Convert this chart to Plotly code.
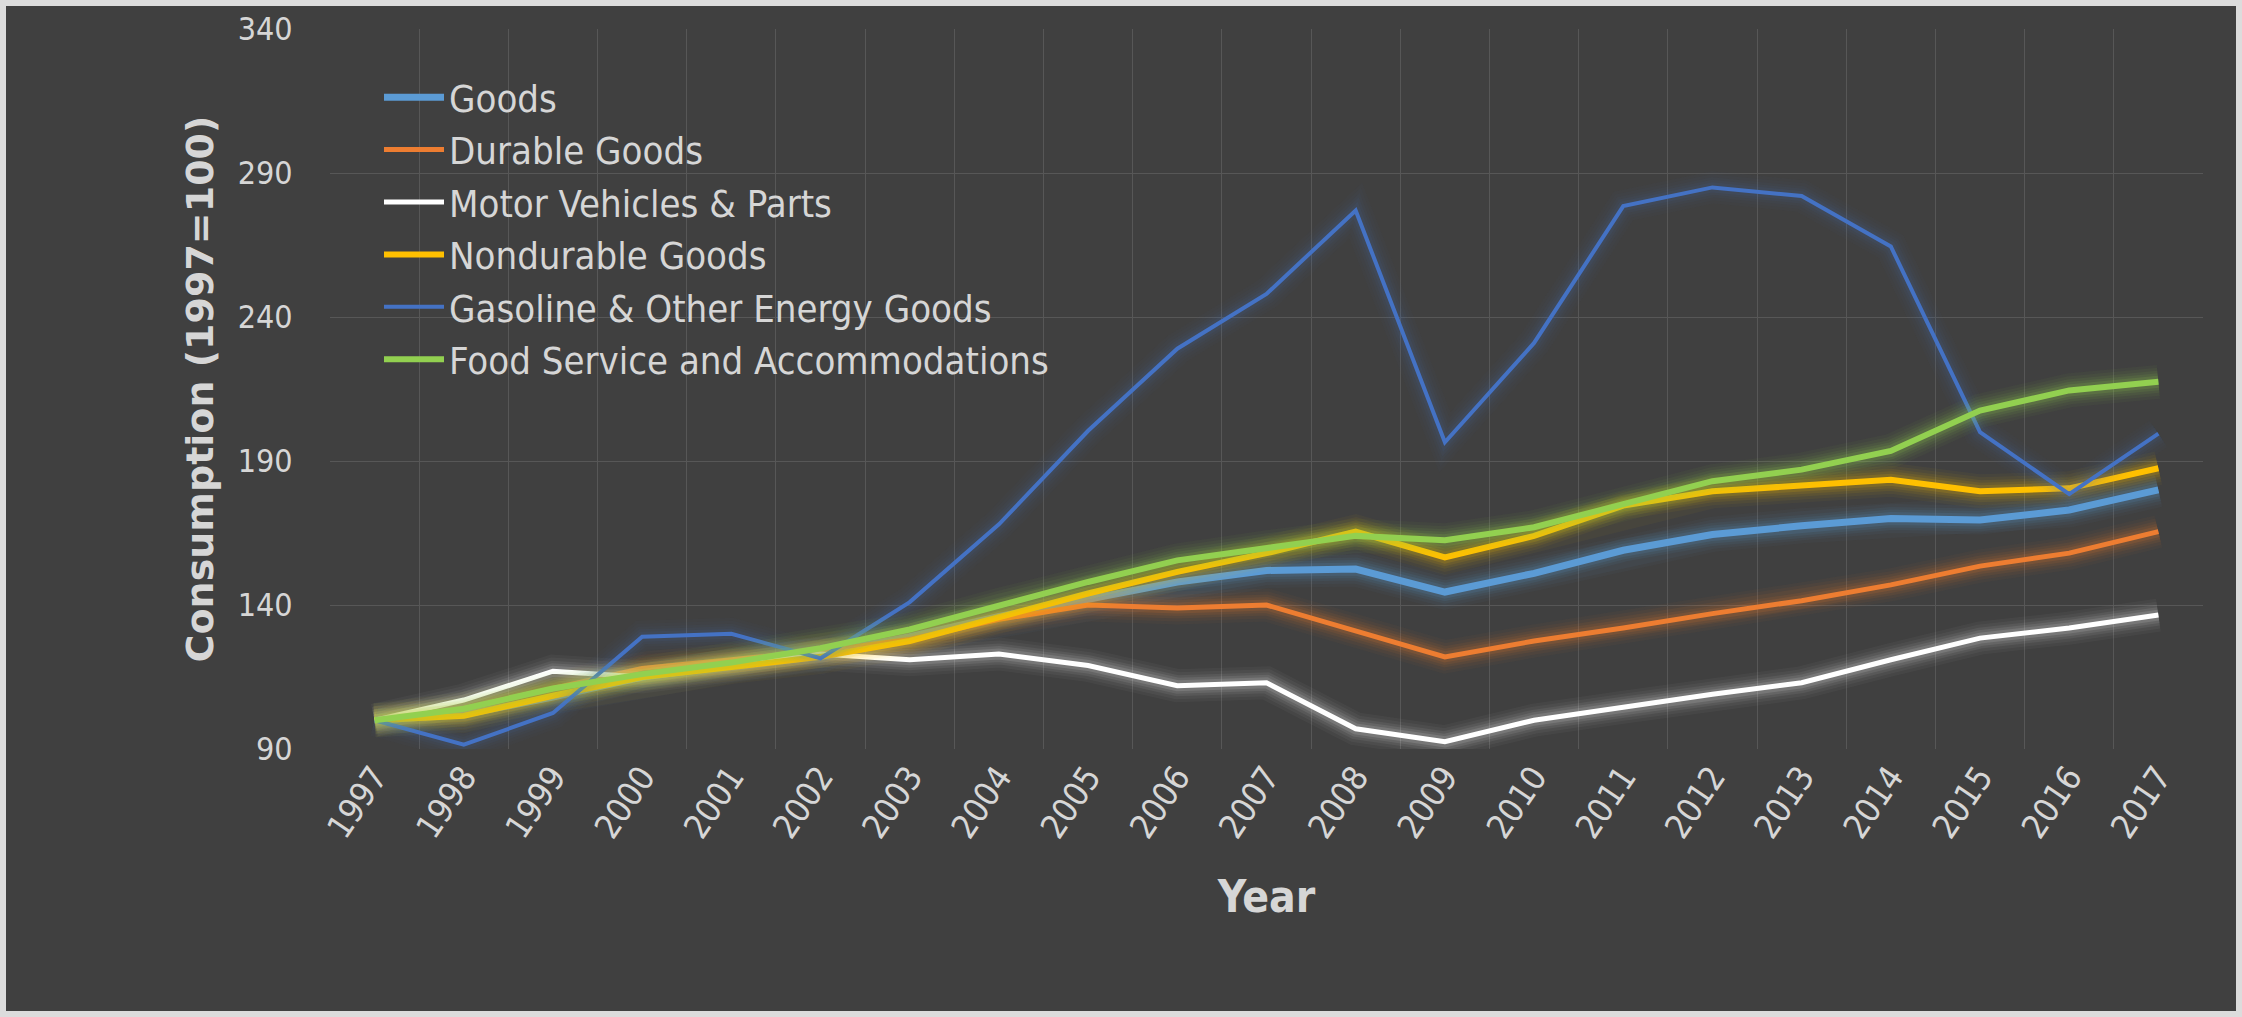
import plotly.graph_objects as go

# Consumption indices, 1997 = 100
years = [str(y) for y in range(1997, 2018)]

goods = [100, 102, 108, 115, 119, 123, 129, 136, 142, 148, 152, 152.5, 144.5, 151, 159, 164.5, 167.5, 170, 169.5, 173, 180]
durable_goods = [100, 104, 111, 118, 121, 124, 128, 135, 140, 139, 140, 131, 122, 127.5, 132, 137, 141.5, 147, 153.5, 158, 165.5]
motor_vehicles = [100, 107, 117, 115, 119, 123, 121, 123, 119, 112, 113, 97, 92.5, 100, 104.5, 109, 113, 121, 128.5, 132, 136.5]
nondurable_goods = [100, 101.5, 108.5, 115, 118.5, 122, 127.5, 136, 144, 151.5, 158, 165.5, 156.5, 164, 174.5, 179.5, 181.5, 183.5, 179.5, 180.5, 187.5]
gasoline_energy = [100, 91.5, 102.5, 129, 130, 121.5, 141, 168, 200.5, 229, 248, 277, 196.5, 231, 278.5, 285, 282, 264.5, 200, 178.5, 199.5]
food_accommodations = [100, 104, 111, 116, 120, 125, 131.5, 140, 148, 155.5, 160, 164, 162.5, 167, 175, 183, 187, 193.5, 207.5, 214.5, 217.5]

series_names = [
    "Goods",
    "Durable Goods",
    "Motor Vehicles & Parts",
    "Nondurable Goods",
    "Gasoline & Other Energy Goods",
    "Food Service and Accommodations",
]
series_values = [goods, durable_goods, motor_vehicles, nondurable_goods, gasoline_energy, food_accommodations]
series_colors = ["#5B9BD5", "#ED7D31", "#FFFFFF", "#FFC000", "#4472C4", "#92D050"]
series_widths = [7, 5, 5, 6, 4, 6]
glow_strength = [1.0, 1.0, 0.9, 1.0, 0.6, 1.1]

y_ticks = [90, 140, 190, 240, 290, 340]

BG = "#404040"
FRAME = "#dcdcdc"
TEXT = "#d6d6d6"
GRID = "#575757"
FONT = "Liberation Sans Narrow, DejaVu Sans Condensed, Lato, sans-serif"
TITLE_FONT = "DejaVu Sans, Verdana, sans-serif"

# halo layers: (extra width, opacity)
GLOW_LAYERS = [(28, 0.04), (22, 0.05), (16, 0.07), (11, 0.09), (6, 0.13)]


def rgba(hex_color, alpha):
    h = hex_color.lstrip("#")
    r, g, b = int(h[0:2], 16), int(h[2:4], 16), int(h[4:6], 16)
    return f"rgba({r},{g},{b},{alpha})"


fig = go.Figure()

for name, vals, color, width, glow in zip(series_names, series_values, series_colors, series_widths, glow_strength):
    # soft halo under each series line
    for extra, alpha in GLOW_LAYERS:
        fig.add_trace(go.Scatter(
            x=years, y=vals, mode="lines",
            line=dict(color=rgba(color, min(alpha * glow, 1)), width=width + extra, shape="linear"),
            hoverinfo="skip", showlegend=False,
        ))
    fig.add_trace(go.Scatter(
        x=years, y=vals, mode="lines", name=name,
        line=dict(color=color, width=width),
    ))

W, H = 2242, 1017
ML, MR, MT, MB = 330, 39, 29, 268
pw, ph = W - ML - MR, H - MT - MB
edge = 6

fig.update_layout(
    width=W, height=H,
    margin=dict(l=ML, r=MR, t=MT, b=MB, autoexpand=False),
    paper_bgcolor=FRAME,
    plot_bgcolor="rgba(0,0,0,0)",
    shapes=[dict(
        type="rect", xref="paper", yref="paper", layer="below",
        x0=(edge - ML) / pw, x1=1 + (MR - edge) / pw,
        y0=-(MB - edge) / ph, y1=1 + (MT - edge) / ph,
        fillcolor=BG, line=dict(width=0),
    )],
    showlegend=True,
    legend=dict(
        x=(379 - ML) / pw, y=1 - (66 - MT) / ph, xanchor="left", yanchor="top",
        bgcolor="rgba(0,0,0,0)", borderwidth=0,
        font=dict(family=FONT, size=38, color=TEXT),
        itemwidth=60, tracegroupgap=0,
    ),
    xaxis=dict(
        type="category", range=[-0.5, 20.5], tickson="boundaries",
        showgrid=True, gridcolor=GRID, gridwidth=1,
        showline=False, zeroline=False,
        ticks="outside", ticklen=37, tickcolor="rgba(0,0,0,0)",
        tickangle=-56, tickfont=dict(family=FONT, size=34, color=TEXT),
        title=dict(text="<b>Year</b>", font=dict(family=FONT, size=44, color=TEXT), standoff=36),
    ),
    yaxis=dict(
        range=[90, 340], tickvals=y_ticks,
        showgrid=True, gridcolor=GRID, gridwidth=1,
        showline=False, zeroline=False,
        ticks="outside", ticklen=30, tickcolor="rgba(0,0,0,0)",
        tickfont=dict(family=FONT, size=32, color=TEXT),
        title=dict(text="<b>Consumption (1997=100)</b>", font=dict(family=TITLE_FONT, size=38, color=TEXT), standoff=12),
    ),
)

fig.write_html("out.html")
